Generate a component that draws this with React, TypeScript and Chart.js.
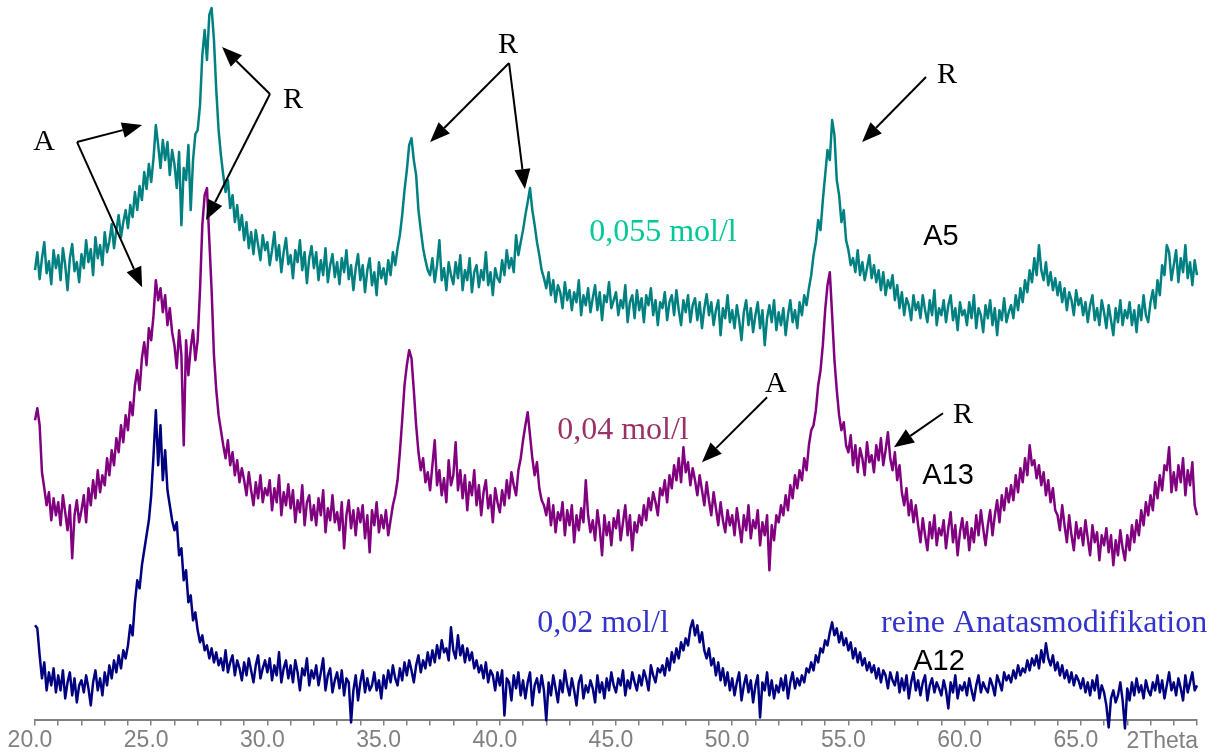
import React, { useEffect, useRef } from "react";
import { Chart, registerables } from "chart.js";

Chart.register(...registerables);

// ---- X axis (2Theta, degrees) ----
const TWO_THETA_START = 20.0;
const TWO_THETA_STEP = 0.1;
const X_MIN = 20;
const X_MAX = 70;
const X_LABELED_TICKS = [20, 25, 30, 35, 40, 45, 50, 55, 60, 65];
const X_AXIS_TITLE = "2Theta";

// ---- Series (intensity, arbitrary units, offset traces), one value per 0.1 deg from 20.0 to 70.0 ----
const A5_VALUES = [
  450, 468, 441, 462, 478, 447, 459, 436, 470, 452,
  465, 440, 472, 455, 430, 462, 476, 449, 458, 438,
  466, 452, 480, 458, 471, 445, 483, 462, 475, 455,
  488, 468, 479, 496, 472, 490, 505, 483, 498, 510,
  492, 515, 503, 528, 510, 534, 520, 548, 531, 556,
  538, 562, 595, 575, 552, 580, 560, 578, 545, 570,
  556, 532, 568, 495, 552, 540, 575, 510, 560, 586,
  590, 615, 665, 690, 660, 705, 712, 680, 630, 590,
  565, 545, 528, 540, 512, 525, 498, 515, 490, 505,
  480, 498, 472, 488, 466, 490, 475, 460, 485, 470,
  478, 455, 470, 488, 460, 475, 448, 468, 482, 456,
  465, 442, 470, 458, 480, 450, 468, 437, 462, 474,
  452, 468, 440, 460, 445, 472, 438, 455, 466, 443,
  458, 436, 462, 448, 470, 441, 455, 430, 452, 466,
  440, 455, 428, 450, 462, 435, 448, 425, 458, 442,
  452, 436, 460, 445, 468, 455, 472, 485, 505, 530,
  550, 575, 582, 560, 545, 510, 490, 472, 460, 450,
  445, 462, 438, 455, 480, 440, 452, 430, 458, 445,
  436, 458, 442, 465, 430, 450, 440, 462, 428, 448,
  455, 433, 450, 440, 468, 435, 448, 425, 452, 442,
  438, 460, 445, 470, 452, 462, 448, 485, 465, 478,
  490, 505, 518, 532, 510, 495, 478, 465, 450, 442,
  432, 448, 425, 440, 418, 435, 428, 412, 438, 420,
  430, 410, 428, 418, 440, 405, 425, 415, 432, 408,
  422, 435, 410, 428, 400, 425, 418, 438, 412, 420,
  428, 405, 420, 412, 435, 398, 418, 425, 402, 430,
  410, 422, 398, 425, 415, 432, 405, 420, 395, 418,
  412, 428, 400, 418, 425, 405, 430, 410, 395, 420,
  408, 425, 398, 415, 422, 400, 418, 392, 412, 426,
  405, 418, 395, 410, 420, 385, 412, 402, 425, 398,
  410, 392, 415, 400, 380, 408, 420, 395, 412, 388,
  405, 418, 392, 410, 375, 402, 415, 398, 420, 390,
  408, 395, 412, 385, 405, 420, 398, 410, 392, 418,
  405, 425, 415, 432, 445, 465, 478, 500, 490, 520,
  545, 570, 560, 600, 585, 540, 525, 498, 510, 480,
  470, 455, 462, 448, 470, 445, 458, 440, 452, 465,
  442, 455, 438, 450, 430, 448, 425, 440, 432, 445,
  420, 435, 412, 428, 405, 422, 415, 400, 425, 410,
  418, 402, 425, 410, 398, 420, 405, 430, 395, 412,
  405, 420, 398, 415, 425, 400, 412, 390, 418, 405,
  410, 395, 418, 402, 425, 392, 412, 405, 388, 415,
  402, 420, 395, 412, 385, 410, 400, 422, 398, 408,
  415, 402, 425, 410, 432, 418, 440, 428, 450, 438,
  462, 445, 475, 450, 440, 458, 435, 448, 430, 442,
  425, 438, 418, 432, 410, 428, 420, 405, 430, 415,
  422, 405, 418, 398, 415, 425, 400, 412, 395, 420,
  408, 392, 415, 400, 385, 412, 398, 420, 395, 410,
  402, 418, 395, 410, 388, 415, 400, 425, 405, 398,
  418, 430, 412, 440, 425, 455, 445, 475, 468, 440,
  455, 470, 438, 462, 448, 475, 442, 458, 435, 460,
  445,
];

const A13_VALUES = [
  300, 312, 295, 248, 232, 215, 228, 200, 222, 205,
  218, 195, 225, 208, 190, 215, 162, 205, 220, 198,
  210, 225, 198, 232, 215, 240, 222, 250, 228, 245,
  235, 262, 245, 270, 255, 282, 268, 295, 278, 305,
  290, 318, 305, 335, 350, 330, 362, 378, 355, 392,
  380, 405, 440, 420, 432, 408, 425, 395, 412, 388,
  375, 352, 390, 365, 275, 380, 345, 372, 390, 360,
  380, 430, 495, 525, 532, 480, 430, 365, 330, 305,
  290, 275, 262, 280, 255, 268, 245, 260, 238, 252,
  240, 225, 248, 230, 215, 238, 222, 245, 218, 232,
  225, 240, 210, 232, 218, 245, 205, 228, 215, 236,
  212, 230, 198, 220, 208, 235, 195, 218, 225, 200,
  215, 195, 222, 205, 230, 188, 212, 200, 225, 198,
  208, 190, 218, 172, 205, 220, 192, 210, 185, 212,
  198, 215, 182, 205, 168, 210, 195, 218, 188, 205,
  192, 210, 185, 200, 215, 225, 240, 268, 300, 335,
  355, 370, 362, 330, 295, 268, 250, 262, 238, 248,
  230, 255, 280, 235, 250, 225, 242, 218, 260, 235,
  245, 278, 230, 250, 222, 245, 210, 238, 225, 250,
  215, 235, 205, 228, 240, 212, 225, 198, 232, 218,
  208, 230, 215, 240, 222, 248, 235, 225, 250, 262,
  280, 295, 308, 285, 262, 245, 258, 232, 220, 215,
  205, 222, 195, 215, 188, 208, 200, 218, 185, 210,
  195, 215, 178, 205, 190, 212, 198, 240, 205, 188,
  200, 180, 210, 192, 165, 205, 185, 198, 175, 202,
  192, 210, 180, 198, 215, 185, 205, 170, 198, 188,
  205, 195, 215, 200, 222, 210, 228, 218, 205, 232,
  225, 240, 218, 245, 232, 255, 240, 262, 238, 273,
  248, 258, 235, 252, 240, 225, 245, 230, 215, 238,
  220, 205, 228, 212, 195, 218, 200, 188, 210, 195,
  205, 185, 212, 195, 178, 205, 190, 215, 182, 200,
  192, 210, 175, 198, 185, 205, 150, 195, 180, 205,
  198, 215, 205, 225, 210, 235, 222, 245, 232, 250,
  240, 262, 250, 275, 290, 295, 310, 335, 350, 375,
  410, 435, 448, 405, 360, 330, 305, 290, 298, 275,
  268, 285, 255, 275, 248, 272, 262, 245, 278, 258,
  265, 248, 275, 260, 282, 255, 270, 288, 262, 250,
  268, 240, 255, 228, 215, 232, 205, 220, 198, 215,
  195, 178, 202, 185, 170, 198, 182, 205, 175, 192,
  185, 200, 172, 192, 208, 178, 195, 165, 188, 202,
  182, 198, 170, 192, 178, 205, 185, 210, 192, 175,
  195, 210, 185, 205, 220, 198, 225, 210, 232, 218,
  235, 220, 245, 228, 252, 238, 262, 245, 275, 255,
  260, 242, 255, 235, 248, 225, 240, 218, 232, 210,
  205, 190, 215, 195, 178, 205, 185, 170, 198, 182,
  192, 175, 200, 182, 165, 195, 178, 188, 160, 185,
  175, 192, 168, 185, 155, 180, 165, 190, 172, 160,
  185, 170, 195, 178, 200, 185, 210, 195, 218, 205,
  225, 210, 238, 222, 245, 230, 255, 250, 273, 228,
  248, 230, 255, 238, 262, 225, 250, 235, 258, 215,
  205,
];

const A12_VALUES = [
  95, 92, 65, 42, 58, 30, 48, 35, 52, 28,
  45, 30, 50, 22, 38, 48, 25, 42, 18, 35,
  40, 28, 45, 32, 15, 38, 50, 30, 42, 25,
  48, 35, 55, 42, 60, 48, 65, 52, 70, 62,
  75, 95, 85, 118, 140, 132, 155, 170, 185, 200,
  225, 265, 310, 255, 295, 240, 270, 230, 215, 200,
  190, 198, 165, 172, 140, 150, 118, 125, 100, 108,
  90, 78, 85, 70, 75, 62, 72, 58, 68, 55,
  62, 50, 70, 48, 58, 65, 45, 60, 52, 40,
  58, 45, 62, 50, 38, 55, 65, 42, 52, 60,
  48, 62, 40, 55, 45, 68, 38, 52, 60, 42,
  55, 38, 60, 48, 30, 52, 45, 62, 35, 50,
  42, 55, 35, 48, 62, 30, 45, 52, 28, 40,
  48, 32, 50, 25, 42, 38, -2, 30, 45, 20,
  38, 50, 28, 42, 30, 35, 48, 30, 40, 22,
  45, 32, 50, 38, 55, 42, 35, 52, 40, 58,
  45, 60, 50, 38, 55, 65, 48, 60, 52, 68,
  55, 70, 58, 75, 62, 80, 68, 72, 60, 93,
  70, 62, 85, 65, 75, 58, 72, 60, 68, 52,
  60, 48, 55, 42, 58, 38, 50, 45, 30, 48,
  35, 50, 5, 42, 38, 20, 45, 32, 48, 25,
  40, 22, 38, 48, 15, 35, 42, 28, 45, 30,
  0, 38, 25, 45, 32, 18, 40, 28, 50, 35,
  25, 42, 30, 15, 38, 45, 22, 35, 28, 40,
  32, 18, 45, 28, 38, 22, 42, 30, 48, 35,
  28, 42, 35, 50, 25, 40, 32, 48, 38, 30,
  45, 35, 50, 42, 30, 55, 45, 38, 52, 48,
  55, 45, 62, 50, 68, 58, 72, 62, 78, 70,
  82, 75, 92, 100, 85, 95, 78, 88, 70, 62,
  72, 55, 62, 45, 58, 40, 52, 35, 48, 30,
  42, 25, 38, 48, 20, 35, 45, 28, 40, 18,
  35, 45, 3, 38, 30, 48, 25, 40, 22, 35,
  28, 42, 30, 45, 22, 38, 48, 32, 42, 35,
  45, 38, 52, 48, 58, 50, 65, 58, 72, 68,
  80, 75, 88, 98, 85, 92, 78, 88, 75, 82,
  70, 78, 62, 72, 58, 68, 55, 62, 50, 58,
  48, 55, 42, 52, 38, 50, 45, 32, 48, 40,
  35, 48, 28, 42, 30, 45, 22, 38, 48, 30,
  40, 25, 38, 45, 20, 35, 42, 28, 38, 32,
  25, 40, 30, 12, 38, 28, 45, 22, 35, 30,
  38, 25, 42, 30, 20, 35, 45, 28, 38, 32,
  28, 42, 35, 25, 45, 38, 30, 48, 40, 45,
  38, 50, 42, 55, 45, 52, 48, 60, 50, 62,
  55, 65, 52, 70, 58, 77, 62, 55, 65, 50,
  58, 45, 55, 42, 50, 38, 48, 35, 45, 40,
  32, 42, 28, 38, 25, 40, 30, 45, 22, 35,
  28, 15, -7, 22, 30, 18, 25, 38, 20, -8,
  32, 20, 38, 25, 42, 28, 35, 22, 40, 30,
  25, 38, 30, 45, 28, 40, 22, 35, 48, 30,
  38, 25, 42, 32, 20, 45, 28, 38, 48, 30,
  35,
];

const SERIES_NAMES = ["A5", "A13", "A12"];
const SERIES_COLORS = ["#008080", "#800080", "#000080"];

// ---- Annotations (in data coordinates: 2Theta, intensity) ----
const PHASE_LETTERS = [
  { text: "A", x: 20.39, y: 570 },
  { text: "R", x: 31.1, y: 612 },
  { text: "R", x: 40.35, y: 667 },
  { text: "R", x: 59.24, y: 637 },
  { text: "A", x: 51.88, y: 328 },
  { text: "R", x: 59.93, y: 297 },
];
const CONCENTRATION_LABELS = [
  { text: "0,055 mol/l", x: 47.02, y: 479, color: "#00C896" },
  { text: "0,04 mol/l", x: 45.3, y: 281, color: "#993366" },
  { text: "0,02 mol/l", x: 44.44, y: 88, color: "#3333CC" },
  { text: "reine Anatasmodifikation", x: 63.42, y: 88, color: "#3333CC" },
];
const SAMPLE_LABELS = [
  { text: "A5", x: 58.98, y: 475 },
  { text: "A13", x: 59.29, y: 236 },
  { text: "A12", x: 58.9, y: 50 },
];
const ARROWS = [
  { x0: 21.81, y0: 578, x1: 24.61, y1: 595 },
  { x0: 21.81, y0: 578, x1: 24.61, y1: 433 },
  { x0: 30.11, y0: 626, x1: 28.05, y1: 673 },
  { x0: 30.11, y0: 626, x1: 27.36, y1: 500 },
  { x0: 40.4, y0: 657, x1: 37.0, y1: 578 },
  { x0: 40.4, y0: 657, x1: 41.08, y1: 531 },
  { x0: 58.34, y0: 643, x1: 55.59, y1: 578 },
  { x0: 51.5, y0: 323, x1: 48.7, y1: 258 },
  { x0: 59.07, y0: 307, x1: 56.96, y1: 273 },
];

const SERIF = "'Liberation Serif', 'Times New Roman', serif";
const SANS = "'Liberation Sans', Arial, sans-serif";

function toPoints(values: number[]) {
  return values.map((v, i) => ({
    x: Math.round((TWO_THETA_START + i * TWO_THETA_STEP) * 10) / 10,
    y: v,
  }));
}

const annotationPlugin = {
  id: "xrdAnnotations",
  afterDraw(chart: any) {
    const { ctx, chartArea } = chart;
    const xs = chart.scales.x;
    const ys = chart.scales.y;
    const px = (v: number) => xs.getPixelForValue(v);
    const py = (v: number) => ys.getPixelForValue(v);
    ctx.save();

    // arrows
    ctx.strokeStyle = "#000";
    ctx.fillStyle = "#000";
    ctx.lineWidth = 2;
    for (const a of ARROWS) {
      const sx = px(a.x0), sy = py(a.y0), tx = px(a.x1), ty = py(a.y1);
      const ang = Math.atan2(ty - sy, tx - sx);
      const headLen = 20, headHalf = 8;
      const bx = tx - headLen * Math.cos(ang);
      const by = ty - headLen * Math.sin(ang);
      ctx.beginPath();
      ctx.moveTo(sx, sy);
      ctx.lineTo(bx, by);
      ctx.stroke();
      ctx.beginPath();
      ctx.moveTo(tx, ty);
      ctx.lineTo(bx + headHalf * Math.sin(ang), by - headHalf * Math.cos(ang));
      ctx.lineTo(bx - headHalf * Math.sin(ang), by + headHalf * Math.cos(ang));
      ctx.closePath();
      ctx.fill();
    }

    ctx.textAlign = "center";
    ctx.textBaseline = "alphabetic";
    ctx.font = `30px ${SERIF}`;
    ctx.fillStyle = "#000";
    for (const t of PHASE_LETTERS) ctx.fillText(t.text, px(t.x), py(t.y));

    ctx.font = `32px ${SERIF}`;
    for (const t of CONCENTRATION_LABELS) {
      ctx.fillStyle = t.color;
      ctx.fillText(t.text, px(t.x), py(t.y));
    }

    ctx.font = `29px ${SANS}`;
    ctx.fillStyle = "#000";
    for (const t of SAMPLE_LABELS) ctx.fillText(t.text, px(t.x), py(t.y));

    // axis title in place of the last tick label
    ctx.font = `23px ${SANS}`;
    ctx.fillStyle = "#808080";
    ctx.textAlign = "right";
    ctx.textBaseline = "middle";
    ctx.fillText(X_AXIS_TITLE, chartArea.right + 1, chartArea.bottom + 21);

    ctx.restore();
  },
};

export default function App() {
  const ref = useRef<HTMLCanvasElement>(null);

  useEffect(() => {
    const canvas = ref.current;
    if (!canvas) return;
    const seriesValues = [A5_VALUES, A13_VALUES, A12_VALUES];
    const chart = new Chart(canvas, {
      type: "line",
      data: {
        datasets: seriesValues.map((vals, i) => ({
          label: SERIES_NAMES[i],
          data: toPoints(vals),
          borderColor: SERIES_COLORS[i],
          backgroundColor: SERIES_COLORS[i],
          borderWidth: 2.5,
          pointRadius: 0,
          tension: 0,
          fill: false,
          clip: false as any,
          borderJoinStyle: "round" as const,
        })),
      },
      options: {
        responsive: false,
        maintainAspectRatio: false,
        animation: false,
        layout: { padding: { left: 35, right: 22, top: 0, bottom: 0 } },
        plugins: {
          legend: { display: false },
          tooltip: { enabled: false },
          title: { display: false },
        },
        scales: {
          x: {
            type: "linear",
            min: X_MIN,
            max: X_MAX,
            grid: {
              display: true,
              drawOnChartArea: false,
              drawTicks: true,
              tickLength: 5,
              color: "#808080",
              lineWidth: 1.5,
            },
            border: { display: true, color: "#808080", width: 2 },
            ticks: {
              stepSize: 1,
              maxTicksLimit: 100,
              autoSkip: false,
              maxRotation: 0,
              minRotation: 0,
              padding: 1,
              labelOffset: -5,
              color: "#808080",
              font: { family: SANS, size: 23 },
              callback: (value: any) => {
                const v = Math.round(Number(value));
                return X_LABELED_TICKS.includes(v) && Math.abs(Number(value) - v) < 1e-6
                  ? v.toFixed(1)
                  : "";
              },
            },
          },
          y: {
            type: "linear",
            display: false,
            min: 0,
            max: 720,
          },
        },
      },
      plugins: [annotationPlugin],
    });
    return () => chart.destroy();
  }, []);

  return (
    <div
      style={{
        position: "fixed",
        left: 0,
        top: 0,
        width: 1219,
        height: 755,
        background: "#ffffff",
      }}
    >
      <canvas
        ref={ref}
        width={1219}
        height={755}
        style={{ display: "block", width: 1219, height: 755 }}
      />
    </div>
  );
}
